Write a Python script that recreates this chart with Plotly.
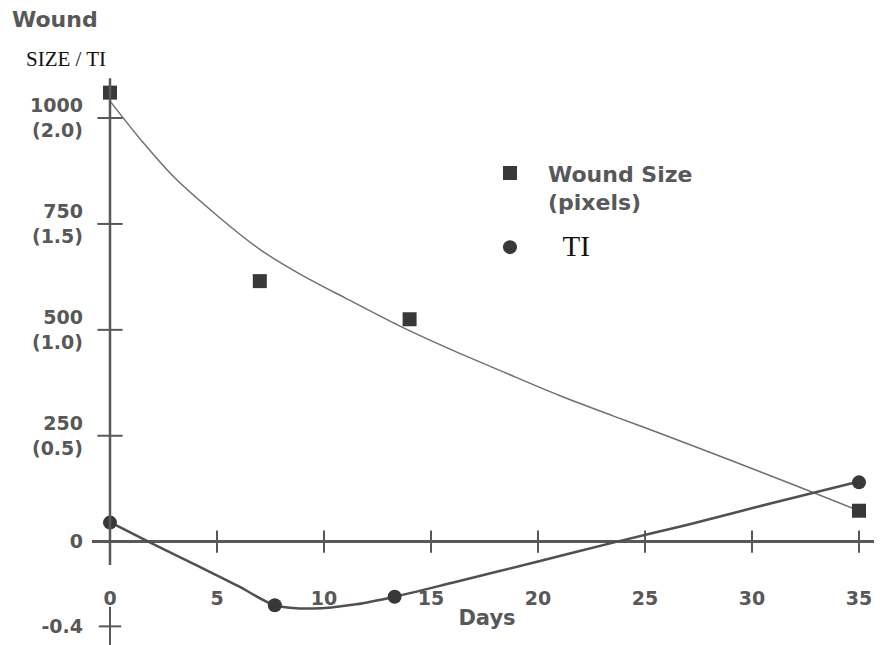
import plotly.graph_objects as go

# ---- data ----
wound_days = [0, 7, 14, 35]
wound_size = [1060, 615, 525, 73]

ti_days = [0, 7.7, 13.3, 35]
ti_values = [0.09, -0.30, -0.26, 0.28]

# smooth trend curves
wound_curve_days = [0, 1.5, 3, 5, 7, 9, 11, 13.5, 16, 18.5, 21, 23.5, 26, 29, 32, 35]
wound_curve_size = [1040, 945, 860, 770, 690, 628, 575, 510, 452, 398, 345, 297, 250, 192, 133, 73]

ti_curve_days = [0, 2, 4, 6, 7.7, 9.5, 11.5, 13.3, 16, 20, 23.7, 27, 31, 35]
ti_curve_values = [0.092, -0.01, -0.11, -0.21, -0.30, -0.316, -0.296, -0.26, -0.194, -0.094, 0.0, 0.08, 0.184, 0.284]

x_ticks = [0, 5, 10, 15, 20, 25, 30, 35]
y_tickvals = [-200, 0, 250, 500, 750, 1000]
y_ticktext = ["-0.4", "0", "250<br>(0.5)", "500<br>(1.0)", "750<br>(1.5)", "1000<br>(2.0)"]
y_cross_ticks = [250, 500, 750, 1000]

TI_SCALE = 500  # 1000 pixels <-> TI 2.0
Y_RANGE = [-244, 1137]
X_RANGE = [-0.841, 36.075]

INK = "#585858"
DARK = "#383838"

fig = go.Figure()

# curves
fig.add_trace(go.Scatter(x=wound_curve_days, y=wound_curve_size, mode="lines",
                         line=dict(color="#707070", width=1.5, shape="spline", smoothing=0.8),
                         showlegend=False, hoverinfo="skip"))
fig.add_trace(go.Scatter(x=ti_curve_days, y=ti_curve_values, yaxis="y2", mode="lines",
                         line=dict(color="#505050", width=2.5, shape="spline", smoothing=0.8),
                         showlegend=False, hoverinfo="skip"))

# axis decorations (tick crosses)
fig.add_trace(go.Scatter(x=x_ticks[1:], y=[0] * (len(x_ticks) - 1), mode="markers",
                         marker=dict(symbol="line-ns", size=16, line=dict(color=INK, width=2)),
                         showlegend=False, hoverinfo="skip"))
fig.add_trace(go.Scatter(x=[0] * len(y_cross_ticks), y=y_cross_ticks, mode="markers",
                         marker=dict(symbol="line-ew", size=18, line=dict(color=INK, width=2)),
                         showlegend=False, hoverinfo="skip"))
fig.add_trace(go.Scatter(x=[0], y=[-200], mode="markers",
                         marker=dict(symbol="line-ns", size=28, line=dict(color=INK, width=2)),
                         showlegend=False, hoverinfo="skip"))
fig.add_trace(go.Scatter(x=[0], y=[-200], mode="markers",
                         marker=dict(symbol="line-ew", size=16, line=dict(color=INK, width=2)),
                         showlegend=False, hoverinfo="skip"))

# data markers
fig.add_trace(go.Scatter(x=wound_days, y=wound_size, mode="markers",
                         marker=dict(symbol="square", size=14, color=DARK),
                         name="Wound Size<br>(pixels)", legendgroup="a"))
fig.add_trace(go.Scatter(x=ti_days, y=ti_values, yaxis="y2", mode="markers",
                         marker=dict(symbol="circle", size=14, color=DARK),
                         name="<span style='font-family:Liberation Serif;font-weight:normal;font-size:29px;fill:#111111'>\u00a0\u00a0TI</span>",
                         legendgroup="b"))

# y axis line
fig.add_shape(type="line", xref="x", yref="y", x0=0, x1=0, y0=-55, y1=1094,
              line=dict(color=INK, width=2.5))

tickfont = dict(family="DejaVu Sans", size=19, color=INK, weight="bold")

fig.update_layout(
    width=874, height=637,
    margin=dict(l=84, r=0, t=52, b=0),
    plot_bgcolor="white", paper_bgcolor="white",
    xaxis=dict(range=X_RANGE, tickvals=x_ticks, ticktext=[str(v) for v in x_ticks],
               showgrid=False, zeroline=False, showline=False, ticks="",
               anchor="free", position=0.1026, tickfont=tickfont,
               title=dict(text="Days", font=dict(family="DejaVu Sans", size=21, color=INK, weight="bold"),
                          standoff=2)),
    yaxis=dict(range=Y_RANGE, tickvals=y_tickvals, ticktext=y_ticktext,
               showgrid=False, zeroline=True, zerolinewidth=3, zerolinecolor=INK,
               showline=False, ticks="", tickfont=tickfont, ticklabelstandoff=8),
    yaxis2=dict(range=[Y_RANGE[0] / TI_SCALE, Y_RANGE[1] / TI_SCALE], overlaying="y",
                visible=False),
    legend=dict(x=0.481, y=0.8425, xanchor="left", yanchor="top", bgcolor="rgba(0,0,0,0)",
                font=dict(family="DejaVu Sans", size=22, color=INK, weight="bold"),
                valign="top", tracegroupgap=14, itemwidth=66),
    annotations=[
        dict(text="Wound", xref="paper", yref="paper", x=-0.1038, y=1.0684, xanchor="left",
             yanchor="middle", showarrow=False,
             font=dict(family="DejaVu Sans", size=22, color=INK, weight="bold")),
        dict(text="SIZE / TI", xref="paper", yref="paper", x=-0.0861, y=1.0017, xanchor="left",
             yanchor="middle", showarrow=False,
             font=dict(family="Liberation Serif", size=21, color="#111111")),
    ],
)

fig.write_html("out.html")
